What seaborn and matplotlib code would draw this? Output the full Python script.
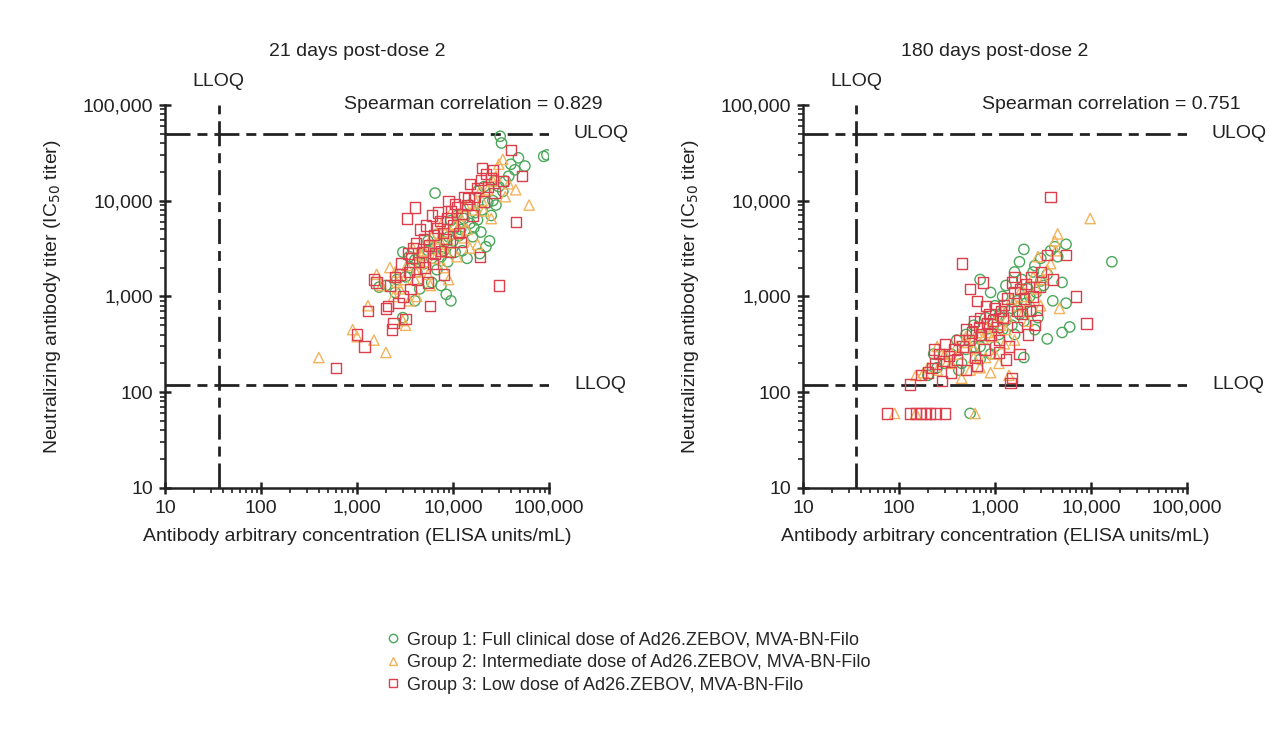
import numpy as np
import pandas as pd
import matplotlib
matplotlib.use("Agg")
import matplotlib.pyplot as plt
import matplotlib.ticker as mticker
from matplotlib.lines import Line2D
import seaborn as sns

# ---- data (ELISA EU/mL, neutralizing IC50 titer) ----
# 21 days post-dose 2
d21_g1_x = [31000, 32000, 48000, 88000, 95000, 56000, 44000, 38000, 27000, 21000, 18000, 6500,
            33000, 26000, 15000, 11000, 9500, 12000, 16000, 22000, 24000, 19000, 8000, 6000,
            5000, 4200, 3500, 3000, 2600, 2000, 1700, 3200, 4500, 7500, 8500, 9500, 6000, 14000,
            10000, 7000, 5500, 13000, 17000, 28000, 3000, 2500, 4000,
            5500, 6500, 7500, 8200, 9000, 10500, 11500, 12500, 13500, 15000, 16500, 18000,
            20000, 23000, 25000, 4800, 4000, 3600, 6800, 8800, 10500, 19500, 30000, 35000, 40000]
d21_g1_y = [47000, 40000, 28000, 29000, 30000, 23000, 21000, 18000, 16000, 14000, 12500, 12000,
            12500, 10000, 9000, 7000, 6200, 5000, 4200, 3300, 3800, 2800, 3000, 2500,
            2200, 1800, 2600, 2900, 1500, 1300, 1250, 1600, 1200, 1300, 1050, 900, 1400, 2500,
            3800, 4500, 3800, 6500, 7500, 9000, 600, 1100, 900,
            3000, 3300, 2600, 3700, 4200, 5200, 4300, 3000, 4800, 5800, 5200, 6300,
            8000, 9500, 7000, 2800, 2400, 2000, 1900, 2300, 2900, 4700, 14000, 16000, 24000]

d21_g2_x = [400, 900, 1000, 1500, 2000, 1300, 1800, 2200, 2500, 3000, 3200, 3500, 4000, 4500,
            5000, 5500, 6500, 7000, 8000, 9000, 10000, 12000, 14000, 16000, 18000, 20000, 23000,
            25000, 30000, 33000, 38000, 45000, 62000, 28000, 35000, 3800, 6000, 8500, 11000,
            15000, 2800, 4200, 1600, 7500, 9500,
            2600, 3300, 4600, 5300, 6200, 7200, 8200, 9200, 10500, 11800, 13000, 17500,
            21000, 26000, 4100, 5800, 3100, 2400, 19000, 13500]
d21_g2_y = [230, 450, 380, 350, 260, 800, 1300, 2000, 1800, 560, 500, 900, 1500, 2200,
            3000, 1700, 2500, 3500, 2000, 1500, 4500, 6000, 5000, 8000, 3500, 10000, 13000,
            6500, 24000, 27000, 15000, 13000, 9000, 18000, 11000, 3200, 4200, 2900, 2600,
            3200, 1200, 1000, 1700, 5600, 7500,
            1400, 2100, 2700, 2300, 3100, 4000, 4700, 3600, 5600, 7000, 4100, 9500,
            7800, 16000, 1800, 1300, 1500, 1000, 12500, 8700]

d21_g3_x = [600, 1000, 1200, 1300, 1500, 1600, 2000, 2100, 2200, 2300, 2400, 2700, 3000, 3200,
            3300, 3500, 3700, 4000, 4200, 4500, 5000, 5500, 5800, 6000, 6500, 7000, 7500, 8000,
            9000, 10000, 11000, 12000, 13000, 14000, 16000, 18000, 19000, 20000, 22000, 25000,
            30000, 33000, 40000, 45000, 52000, 27000, 15000, 8500, 6200, 3800, 4800, 11500,
            2500, 2900, 3400, 4100, 4400, 5200, 5600, 6300, 6800, 7300, 7800, 8700, 9600,
            10500, 12500, 14500, 17000, 19500, 23000, 26000, 5100, 3600, 2800, 9300, 21000]
d21_g3_y = [180, 400, 300, 700, 1500, 1400, 750, 800, 1300, 450, 530, 860, 1000, 580,
            6500, 1800, 2500, 8500, 1500, 5000, 4000, 1400, 800, 7000, 2800, 7500, 3000, 1700,
            10000, 5500, 8500, 3700, 11000, 9000, 7000, 13500, 2600, 22000, 19000, 17000,
            1300, 16000, 34000, 6000, 18000, 12000, 15000, 4000, 2200, 3200, 2900, 4600,
            1600, 2200, 2800, 3600, 2300, 5500, 3400, 4400, 5200, 6100, 4600, 6500, 7700,
            9300, 7300, 10500, 11000, 16500, 14000, 21000, 2000, 1200, 1700, 2900, 9800]

# 180 days post-dose 2 (values below LLOQ shown at 60)
d180_g1_x = [16500, 5500, 4200, 3800, 2000, 1800, 3000, 2500, 1600, 700, 900, 1200, 2200, 5000,
             4000, 5500, 6000, 5000, 3500, 2000, 2800, 1400, 1000, 800, 600, 500, 400, 350, 300,
             250, 200, 230, 1100, 1500, 2400, 3200, 1300, 700, 900, 550, 4500, 1700, 2600, 450,
             600, 700, 850, 950, 1100, 1300, 1500, 1800, 2100, 2300, 2700, 3000, 1000, 1200,
             1600, 2000, 700, 500, 420, 3500, 2600, 1900]
d180_g1_y = [2300, 3500, 3300, 3000, 3100, 2300, 2500, 1800, 1800, 1500, 1100, 1000, 1200, 1400,
             900, 850, 480, 420, 360, 230, 600, 700, 800, 600, 500, 400, 350, 250, 200,
             180, 150, 250, 400, 500, 700, 1300, 1300, 300, 250, 60, 2600, 900, 450, 200,
             300, 380, 460, 520, 620, 560, 750, 650, 850, 1000, 1100, 1450, 300, 450,
             400, 550, 220, 280, 170, 1700, 2100, 1500]

d180_g2_x = [9800, 4500, 4200, 2800, 4700, 3500, 2500, 1900, 1500, 1200, 1000, 800, 650, 500,
             400, 300, 200, 180, 150, 1400, 1100, 900, 700, 600, 350, 2200, 3000, 1600, 2000,
             90, 150, 620, 250, 450, 1300,
             250, 320, 420, 520, 600, 750, 850, 950, 1150, 1350, 1700, 2000, 2300, 2700,
             3200, 3800, 1000, 1250, 800, 550, 4300]
d180_g2_y = [6500, 4500, 3800, 2600, 750, 1900, 1600, 1200, 950, 700, 550, 480, 420, 380,
             300, 250, 180, 160, 150, 150, 200, 160, 180, 230, 200, 550, 800, 350, 1000,
             60, 60, 60, 300, 140, 450,
             170, 210, 250, 330, 290, 360, 420, 380, 500, 600, 800, 700, 900, 1200,
             1500, 2200, 250, 320, 230, 170, 3000]

d180_g3_x = [3800, 450, 550, 750, 650, 1500, 1600, 2000, 2500, 3500, 5500, 7000, 9000, 4000, 3000,
             1700, 1200, 1000, 800, 700, 600, 500, 420, 380, 300, 260, 240, 220, 200, 170, 130,
             900, 1100, 1400, 1800, 2200, 2600, 1300, 1500, 1450, 650, 500, 350, 280, 75, 130,
             150, 170, 190, 210, 240, 300, 1900, 2700,
             230, 290, 330, 400, 460, 540, 580, 680, 720, 820, 880, 960, 1050, 1150, 1250,
             1350, 1600, 1850, 2100, 2400, 2900, 1100, 780, 620, 1700, 2300]
d180_g3_y = [11000, 2200, 1200, 1400, 900, 1400, 1600, 950, 1000, 2700, 2700, 1000, 520, 1500, 1800,
             700, 600, 750, 800, 600, 550, 450, 350, 280, 320, 250, 200, 180, 160, 150, 120,
             400, 350, 300, 250, 400, 500, 220, 140, 125, 190, 170, 160, 130, 60, 60,
             60, 60, 60, 60, 60, 60, 650, 720,
             280, 210, 240, 220, 300, 350, 420, 480, 400, 530, 650, 560, 480, 700, 820,
             950, 1100, 1200, 1350, 1600, 1250, 260, 280, 230, 480, 700]

group_labels = ["Group 1: Full clinical dose of Ad26.ZEBOV, MVA-BN-Filo",
                "Group 2: Intermediate dose of Ad26.ZEBOV, MVA-BN-Filo",
                "Group 3: Low dose of Ad26.ZEBOV, MVA-BN-Filo"]
panel_titles = ["21 days post-dose 2", "180 days post-dose 2"]
spearman = ["0.829", "0.751"]
elisa_lloq = 36.11
nab_lloq = 120
nab_uloq = 50000

colors = ["#4aa85a", "#f2b35c", "#dc3f4b"]
markers = ["o", "^", "s"]

panels = [
    [(d21_g1_x, d21_g1_y), (d21_g2_x, d21_g2_y), (d21_g3_x, d21_g3_y)],
    [(d180_g1_x, d180_g1_y), (d180_g2_x, d180_g2_y), (d180_g3_x, d180_g3_y)],
]

sns.set_style("white")
plt.rcParams["font.family"] = ["Liberation Sans", "DejaVu Sans"]

fig = plt.figure(figsize=(12.87, 7.53), dpi=100)
axes = [fig.add_axes([0.1282, 0.352, 0.2984, 0.5087]),
        fig.add_axes([0.6239, 0.352, 0.2984, 0.5087])]

dash = (9, 2.5, 3.6, 2.5)
fmt = mticker.FuncFormatter(lambda v, p: f"{v:,.0f}")

for ax, pdata, title, rho in zip(axes, panels, panel_titles, spearman):
    for (gx, gy), col, mk in zip(pdata, colors, markers):
        df = pd.DataFrame({"x": gx, "y": gy})
        sns.scatterplot(data=df, x="x", y="y", ax=ax, marker=mk, s=55,
                        facecolors="none", edgecolor=col, linewidth=1.0, zorder=3)
    ax.set_xscale("log")
    ax.set_yscale("log")
    ax.set_xlim(10, 100000)
    ax.set_ylim(10, 100000)
    ax.xaxis.set_major_formatter(fmt)
    ax.yaxis.set_major_formatter(fmt)
    ax.xaxis.set_minor_formatter(mticker.NullFormatter())
    ax.yaxis.set_minor_formatter(mticker.NullFormatter())
    ax.xaxis.set_minor_locator(mticker.LogLocator(subs=np.arange(2, 10)))
    ax.yaxis.set_minor_locator(mticker.LogLocator(subs=np.arange(2, 10)))
    ax.tick_params(which="major", direction="inout", length=9, width=1.8,
                   labelsize=14, colors="#222222", pad=4, bottom=True, left=True)
    ax.tick_params(which="minor", direction="out", length=3.5, width=1.2,
                   bottom=True, left=True, colors="#222222")
    for side in ["top", "right"]:
        ax.spines[side].set_visible(False)
    for side in ["left", "bottom"]:
        ax.spines[side].set_linewidth(1.8)
        ax.spines[side].set_color("#222222")

    ax.axhline(nab_uloq, color="#222222", lw=2, dashes=dash, zorder=2)
    ax.axhline(nab_lloq, color="#222222", lw=2, dashes=dash, zorder=2)
    ax.axvline(elisa_lloq, color="#222222", lw=2, dashes=dash, zorder=2)

    ax.text(1.065, nab_uloq, "ULOQ", transform=ax.get_yaxis_transform(),
            ha="left", va="center", fontsize=14, color="#222222")
    ax.text(1.065, nab_lloq, "LLOQ", transform=ax.get_yaxis_transform(),
            ha="left", va="center", fontsize=14, color="#222222")
    ax.text(elisa_lloq, 1.06, "LLOQ", transform=ax.get_xaxis_transform(),
            ha="center", va="center", fontsize=14, color="#222222")
    ax.text(1.14, 1.0, f"Spearman correlation = {rho}", transform=ax.transAxes,
            ha="right", va="center", fontsize=14, color="#222222")
    ax.text(0.5, 1.14, title, transform=ax.transAxes,
            ha="center", va="center", fontsize=14, color="#222222")

    ax.set_xlabel("Antibody arbitrary concentration (ELISA units/mL)", fontsize=14,
                  color="#222222", labelpad=8)
    ax.set_ylabel("Neutralizing antibody titer (IC$_{50}$ titer)", fontsize=14,
                  color="#222222", labelpad=14)

handles = [Line2D([], [], marker=m, ls="none", markersize=6, markerfacecolor="none",
                  markeredgecolor=c, markeredgewidth=1.0) for m, c in zip(markers, colors)]
fig.legend(handles, group_labels, loc="center left", bbox_to_anchor=(0.294, 0.12),
           frameon=False, fontsize=13, handlelength=0.8, handletextpad=0.4,
           labelspacing=0.3, borderaxespad=0)

fig.savefig("out.png", dpi=100, facecolor="white")
